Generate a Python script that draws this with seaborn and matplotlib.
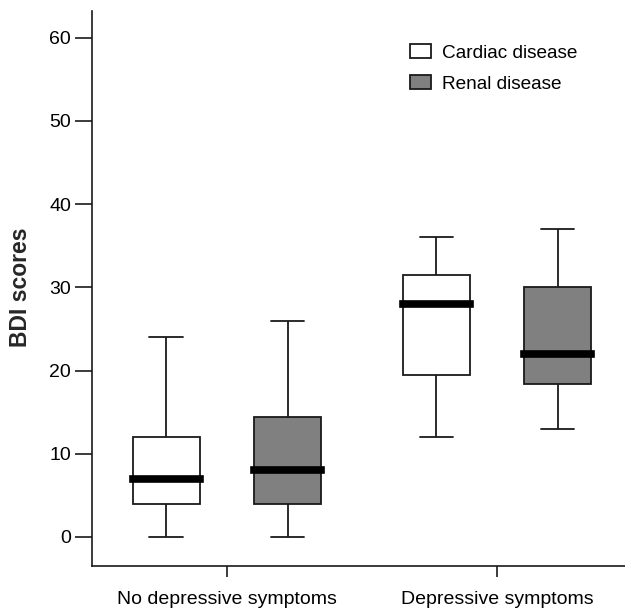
import matplotlib
matplotlib.use("Agg")
import matplotlib.pyplot as plt
import seaborn as sns
import pandas as pd

# Data: five-number summaries (min, Q1, median, Q3, max)
groups = ["No depressive symptoms", "Depressive symptoms"]
diseases = ["Cardiac disease", "Renal disease"]
cardiac_no_dep = [0, 4, 7, 12, 24]
renal_no_dep = [0, 4, 8, 14.4, 26]
cardiac_dep = [12, 19.5, 28, 31.5, 36]
renal_dep = [13, 18.4, 22, 30, 37]
y_ticks = [0, 10, 20, 30, 40, 50, 60]

rows = []
for g, d, vals in [
    (groups[0], diseases[0], cardiac_no_dep),
    (groups[0], diseases[1], renal_no_dep),
    (groups[1], diseases[0], cardiac_dep),
    (groups[1], diseases[1], renal_dep),
]:
    for v in vals:
        rows.append({"group": g, "disease": d, "score": v})
df = pd.DataFrame(rows)

sns.set_style("ticks")
plt.rcParams["font.family"] = ["Liberation Sans", "DejaVu Sans"]
plt.rcParams["text.color"] = "black"
plt.rcParams["xtick.labelcolor"] = "black"
plt.rcParams["ytick.labelcolor"] = "black"

fig = plt.figure(figsize=(6.25, 6.08), dpi=100)
ax = fig.add_axes([0.147, 0.069, 0.853, 0.913])

sns.boxplot(
    data=df, x="group", y="score", hue="disease",
    order=groups, hue_order=diseases,
    palette=["white", "#808080"],
    linecolor="#1a1a1a", linewidth=1.3,
    width=0.9, gap=0.45, whis=(0, 100),
    medianprops=dict(color="black", linewidth=5.5, solid_capstyle="projecting"),
    ax=ax,
)

ax.set_xlim(-0.5, 1.474)
ax.set_ylim(-3.49, 63.2)
ax.set_yticks(y_ticks)
sns.despine(ax=ax)
for s in ["left", "bottom"]:
    ax.spines[s].set_linewidth(1.2)
    ax.spines[s].set_color("#1a1a1a")

ax.tick_params(axis="y", length=12, width=1.2, pad=3, labelsize=14, color="#1a1a1a")
ax.tick_params(axis="x", length=8, width=1.2, pad=10, labelsize=14, color="#1a1a1a")
ax.set_xlabel("")
ax.set_ylabel("BDI scores", fontsize=16.5, fontweight="bold")
ax.yaxis.set_label_coords(-0.113, 0.503)

handles, labels = ax.get_legend_handles_labels()
ax.legend(
    handles, labels, loc="upper left", bbox_to_anchor=(0.597, 0.94),
    frameon=False, fontsize=13.7, borderpad=0, borderaxespad=0,
    handlelength=1.1, handleheight=0.7, handletextpad=0.58, labelspacing=0.72,
)

fig.savefig("out.png", dpi=100)
